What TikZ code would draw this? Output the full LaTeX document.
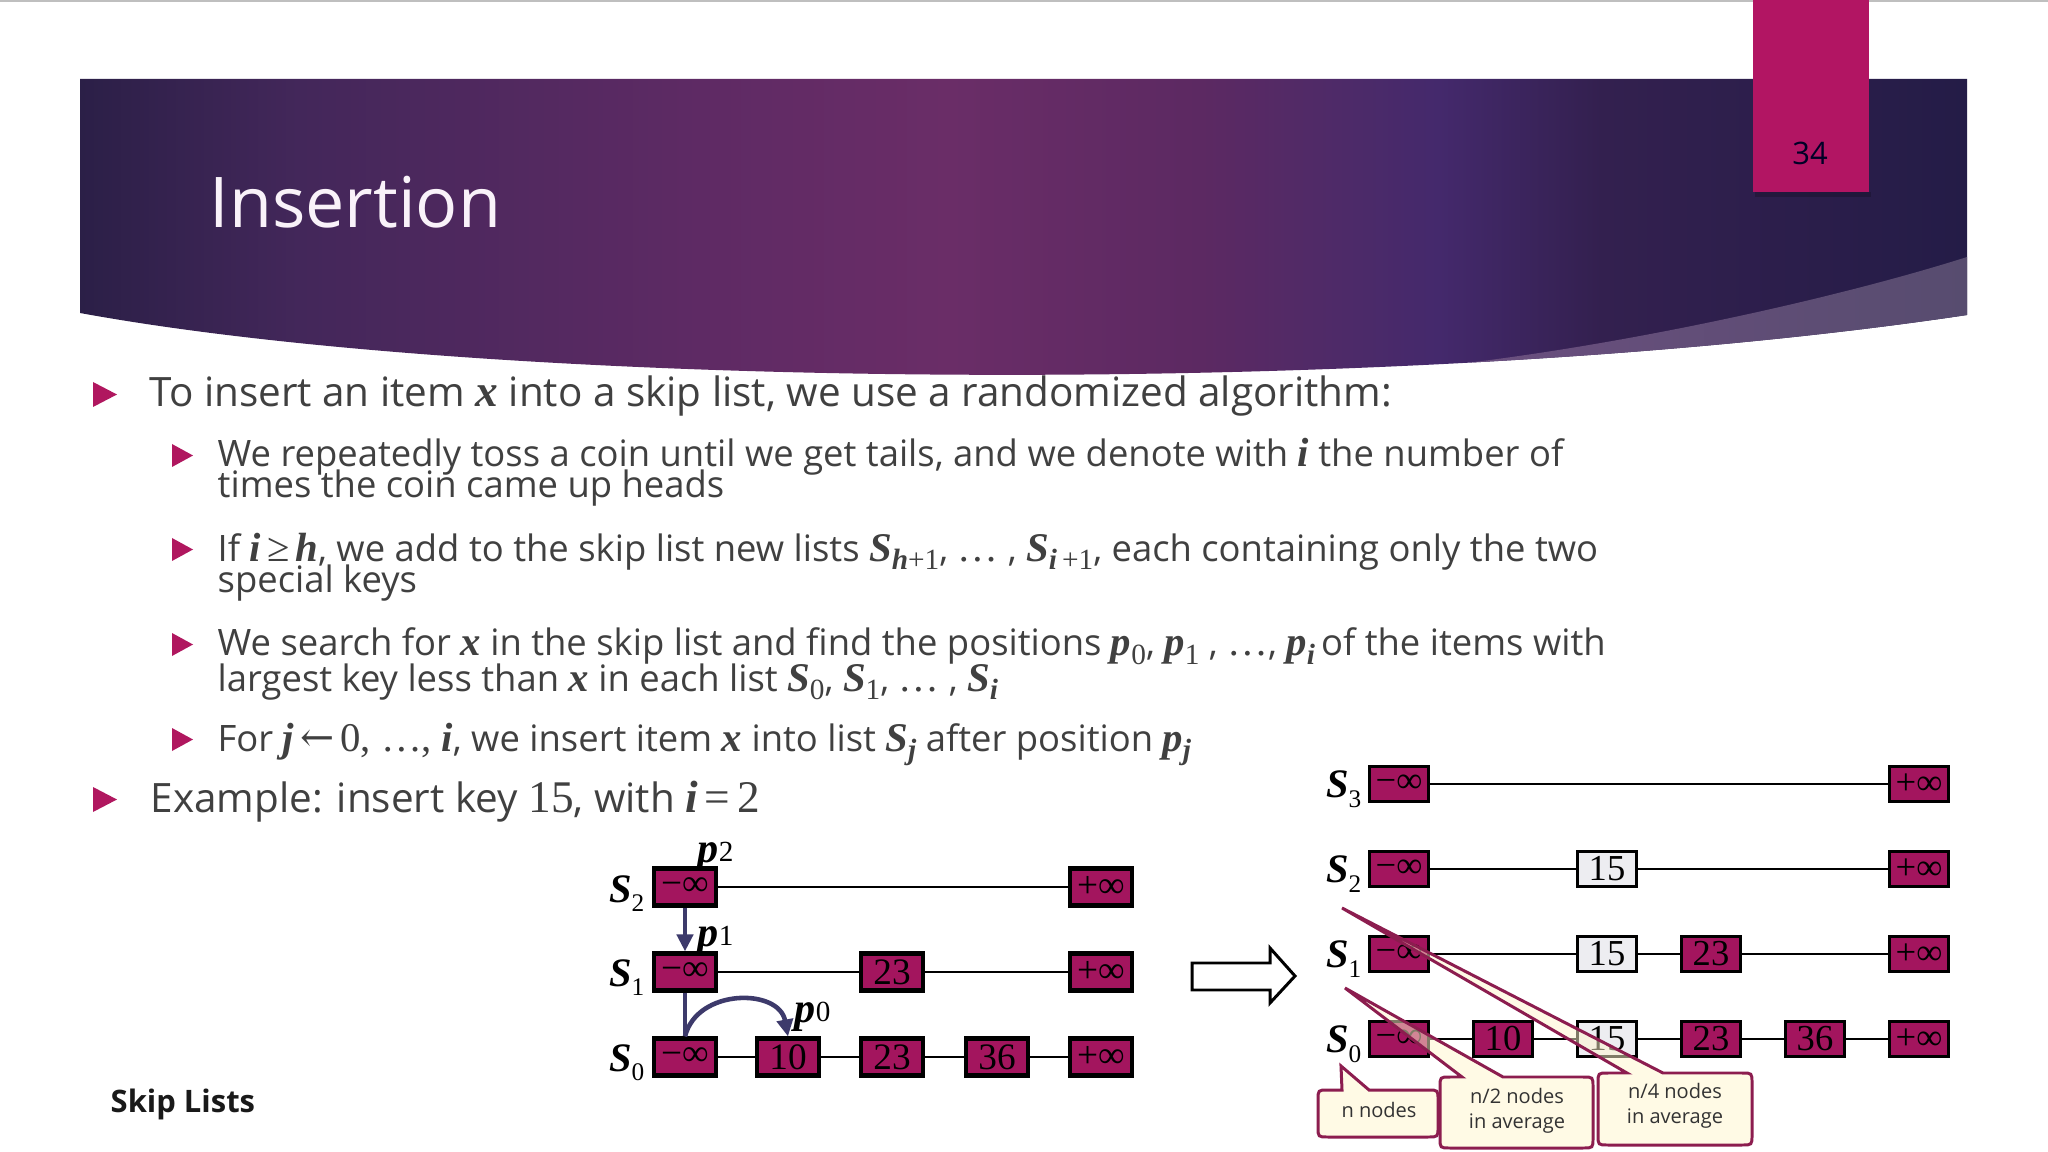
\documentclass[tikz,border=0pt]{standalone}
\usepackage{fontspec}
\usepackage{graphicx}
\usetikzlibrary{arrows.meta}
\setmainfont{Open Sans}
\newfontfamily\tms[Scale=1.12]{Liberation Serif}
\newfontfamily\dg{Liberation Serif}
\newfontfamily\arrf[Scale=1.12]{DejaVu Serif}
\definecolor{bc0}{HTML}{2B1F47}
\definecolor{bc1}{HTML}{43275A}
\definecolor{bc2}{HTML}{5E2A64}
\definecolor{bc3}{HTML}{6A2D67}
\definecolor{bc4}{HTML}{5C2962}
\definecolor{bc5}{HTML}{4E2A68}
\definecolor{bc6}{HTML}{44296C}
\definecolor{bc7}{HTML}{33204F}
\definecolor{bc8}{HTML}{241C47}
\definecolor{sw1}{HTML}{6C4F80}
\definecolor{sw2}{HTML}{574C6F}
\definecolor{txt}{HTML}{404040}
\definecolor{bul}{HTML}{B0175F}
\definecolor{boxm}{HTML}{A3155E}
\definecolor{tabc}{HTML}{B21563}
\definecolor{navy}{HTML}{3D3A6B}
\definecolor{newbox}{HTML}{EDEDF1}
\definecolor{callb}{HTML}{8C1D4F}
\definecolor{callf}{HTML}{FFF6CC}
\pgfdeclarehorizontalshading{bandsh}{100bp}{color(0bp)=(bc0); color(25bp)=(bc0); color(30.8bp)=(bc1); color(41.4bp)=(bc2); color(48bp)=(bc3); color(54.7bp)=(bc4); color(58.3bp)=(bc5); color(61bp)=(bc6); color(65.3bp)=(bc7); color(75bp)=(bc8); color(100bp)=(bc8)}
\newcommand\mi[1]{{\tms\bfseries\itshape #1}}
\newcommand\mr[1]{{\tms #1}}
\newcommand\sbx[1]{\raisebox{-0.45ex}{\scalebox{0.72}{\tms #1}}}
\newcommand\Slab[2]{{\dg\bfseries\itshape\fontsize{11.5}{12}\selectfont S}\raisebox{#2}{\dg\fontsize{7.2}{8}\selectfont #1}}
\newcommand\Plab[1]{{\dg\bfseries\itshape\fontsize{12}{12}\selectfont p}\raisebox{0.01cm}{\dg\fontsize{8.3}{9}\selectfont #1}}
\newcommand\callshape[8]{%
  \path[callout] (#5,#2) -- (#7,#8) -- (#6,#2) -- ({#3-10},#2) .. controls (#3,#2) .. (#3,{#2+10})
   -- (#3,{#4-10}) .. controls (#3,#4) .. ({#3-10},#4) -- ({#1+10},#4) .. controls (#1,#4) .. (#1,{#4-10})
   -- (#1,{#2+10}) .. controls (#1,#2) .. ({#1+10},#2) -- cycle;}
\begin{document}
\begin{tikzpicture}[x=0.01cm,y=-0.01cm,
  mainline/.style={anchor=base west, inner sep=0, text=txt, font=\fontsize{11.5}{13}\selectfont},
  subline/.style={anchor=base west, inner sep=0, text=txt, font=\fontsize{10.35}{12}\selectfont},
  lbox/.style={draw=black, line width=1.15pt, fill=boxm, minimum width=0.62cm, minimum height=0.37cm, inner sep=0, font=\dg\fontsize{10.6}{11}\selectfont},
  rbox/.style={draw=black, line width=0.85pt, fill=boxm, minimum width=0.59cm, minimum height=0.35cm, inner sep=0, font=\dg\fontsize{10.4}{11}\selectfont},
  nbox/.style={rbox, fill=newbox},
  link/.style={line width=0.85pt},
  slab/.style={anchor=base east, inner sep=0},
  plab/.style={anchor=base west, inner sep=0},
  navyarr/.style={draw=navy, line width=1.3pt, -{Triangle[length=0.17cm,width=0.16cm]}},
  navyline/.style={draw=navy, line width=1.3pt},
  callout/.style={draw=callb, line width=0.85pt, fill=callf, fill opacity=0.5},
  ctext/.style={inner sep=0, text=black!80, font=\fontsize{5.7}{6}\selectfont, anchor=base},
  bull/.style={fill=bul}]
\useasboundingbox (0,0) rectangle (2048,1152);
\fill[white] (0,0) rectangle (2048,1152);
\draw[black!25, line width=0.6pt] (0,1) -- (2048,1);
% header band
\shade[shading=bandsh] (80,79) -- (1967,79) -- (1967,315) .. controls (1400,400) and (500,390) .. (80,313) -- cycle;
\begin{scope}
  \clip (80,79) -- (1967,79) -- (1967,315) .. controls (1400,400) and (500,390) .. (80,313) -- cycle;
  \clip (1300,376) .. controls (1500,372) and (1800,310) .. (1967,257) -- (1967,460) -- (1300,460) -- cycle;
  \shade[left color=sw1, right color=sw2] (1440,240) rectangle (1967,400);
\end{scope}
\fill[black, opacity=0.2] (1755,192) rectangle (1871,197);
\fill[tabc] (1753,0) rectangle (1869,192);
\node[anchor=base, inner sep=0, text=black!85!blue, font=\fontsize{8.8}{9}\selectfont] (pnum) at (1810,165) {34};
\node[anchor=base west, inner sep=0, text=white!95!violet, font=\fontsize{19.9}{22}\selectfont] (title) at (209,228) {Insertion};
% bullets
\fill[bull] (93,382) -- (117,394.5) -- (93,407) -- cycle;
\fill[bull] (172,444) -- (193,455.5) -- (172,467) -- cycle;
\fill[bull] (172,538) -- (193,549.5) -- (172,561) -- cycle;
\fill[bull] (172,633) -- (193,644.5) -- (172,656) -- cycle;
\fill[bull] (172,728) -- (193,739.5) -- (172,751) -- cycle;
\fill[bull] (93,787) -- (117,799.5) -- (93,812) -- cycle;
% text
\node[mainline] (t1) at (149,407) {To insert an item \mi{x} into a skip list, we use a randomized algorithm:};
\node[subline] (t2a) at (217,467) {We repeatedly toss a coin until we get tails, and we denote with \mi{i} the number of};
\node[subline] (t2b) at (217,498) {times the coin came up heads};
\node[subline] (t3a) at (217,561) {If \mi{i}\,\mr{≥}\,\mi{h}, we add to the skip list new lists \mi{S}\sbx{\mi{h}+1}, \mr{…} , \mi{S}\sbx{\mi{i}\,+1}, each containing only the two};
\node[subline] (t3b) at (217,593) {special keys};
\node[subline] (t4a) at (217,656) {We search for \mi{x} in the skip list and find the positions \mi{p}\sbx{0}, \mi{p}\sbx{1} , \mr{…}, \mi{p}\sbx{\mi{i}}\,of the items with};
\node[subline] (t4b) at (217,691) {largest key less than \mi{x} in each list \mi{S}\sbx{0}, \mi{S}\sbx{1}, \mr{…} , \mi{S}\sbx{\mi{i}}};
\node[subline] (t5) at (217,751) {For \mi{j}\,{\arrf ←}\,\mr{0, …,} \mi{i}, we insert item \mi{x} into list \mi{S}\sbx{\mi{j}} after position \mi{p}\sbx{\mi{j}}};
\node[mainline] (t6) at (150,812) {Example: insert key \mr{15}, with \mi{i}\,\mr{=}\,\mr{2}};
\node[anchor=base west, inner sep=0, text=black!90, font=\bfseries\fontsize{8.8}{9}\selectfont] (foot) at (110,1112) {Skip Lists};
% left diagram
\node[lbox] (Lm2) at (685,887) {−∞};
\node[lbox] (Lp2) at (1101,887) {+∞};
\node[lbox] (Lm1) at (685,972) {−∞};
\node[lbox] (L23a) at (892,972) {23};
\node[lbox] (Lp1) at (1101,972) {+∞};
\node[lbox] (Lm0) at (685,1057) {−∞};
\node[lbox] (L10) at (788,1057) {10};
\node[lbox] (L23b) at (892,1057) {23};
\node[lbox] (L36) at (997,1057) {36};
\node[lbox] (Lp0) at (1101,1057) {+∞};
\draw[link] (Lm2) -- (Lp2);
\draw[link] (Lm1) -- (L23a);
\draw[link] (L23a) -- (Lp1);
\draw[link] (Lm0) -- (L10);
\draw[link] (L10) -- (L23b);
\draw[link] (L23b) -- (L36);
\draw[link] (L36) -- (Lp0);
\node[slab] (LS2) at (645,902) {\Slab{2}{-0.09cm}};
\node[slab] (LS1) at (645,986) {\Slab{1}{-0.09cm}};
\node[slab] (LS0) at (645,1071) {\Slab{0}{-0.09cm}};
\node[plab] (P2) at (697,862) {\Plab{2}};
\node[plab] (P1) at (697,946) {\Plab{1}};
\node[plab] (P0) at (794,1022) {\Plab{0}};
\draw[navyarr] (Lm2.south) -- (Lm1.north);
\draw[navyline] (Lm1.south) -- (Lm0.north);
\draw[navyarr] (Lm0.north) .. controls (697,988) and (779,988) .. (L10.north);
% hollow arrow
\draw[line width=0.85pt, fill=white] (1192,963) -- (1270,963) -- (1270,948) -- (1295,976) -- (1270,1003) -- (1270,990) -- (1192,990) -- cycle;
% right diagram
\node[rbox] (Rm3) at (1399,784) {−∞};
\node[rbox] (Rp3) at (1919,784) {+∞};
\node[rbox] (Rm2) at (1399,869) {−∞};
\node[nbox] (R15c) at (1607,869) {15};
\node[rbox] (Rp2) at (1919,869) {+∞};
\node[rbox] (Rm1) at (1399,954) {−∞};
\node[nbox] (R15b) at (1607,954) {15};
\node[rbox] (R23a) at (1711,954) {23};
\node[rbox] (Rp1) at (1919,954) {+∞};
\node[rbox] (Rm0) at (1399,1039) {−∞};
\node[rbox] (R10) at (1503,1039) {10};
\node[nbox] (R15a) at (1607,1039) {15};
\node[rbox] (R23b) at (1711,1039) {23};
\node[rbox] (R36) at (1815,1039) {36};
\node[rbox] (Rp0) at (1919,1039) {+∞};
\draw[link] (Rm3) -- (Rp3);
\draw[link] (Rm2) -- (R15c);
\draw[link] (R15c) -- (Rp2);
\draw[link] (Rm1) -- (R15b);
\draw[link] (R15b) -- (R23a);
\draw[link] (R23a) -- (Rp1);
\draw[link] (Rm0) -- (R10);
\draw[link] (R10) -- (R15a);
\draw[link] (R15a) -- (R23b);
\draw[link] (R23b) -- (R36);
\draw[link] (R36) -- (Rp0);
\node[slab] (RS3) at (1362,797) {\Slab{3}{-0.1cm}};
\node[slab] (RS2) at (1362,882) {\Slab{2}{-0.1cm}};
\node[slab] (RS1) at (1362,967) {\Slab{1}{-0.1cm}};
\node[slab] (RS0) at (1362,1052) {\Slab{0}{-0.1cm}};
% callouts
\callshape{1318}{1090}{1438}{1137}{1342}{1369}{1341}{1066}
\callshape{1440}{1077}{1593}{1148}{1462}{1503}{1345}{988}
\callshape{1598}{1073}{1752}{1145}{1627}{1663}{1342}{908}
\node[ctext] (c1) at (1379,1117) {n nodes};
\node[ctext] (c2a) at (1517,1103) {n/2 nodes};
\node[ctext] (c2b) at (1517,1128) {in average};
\node[ctext] (c3a) at (1675,1098) {n/4 nodes};
\node[ctext] (c3b) at (1675,1123) {in average};
\end{tikzpicture}
\end{document}
